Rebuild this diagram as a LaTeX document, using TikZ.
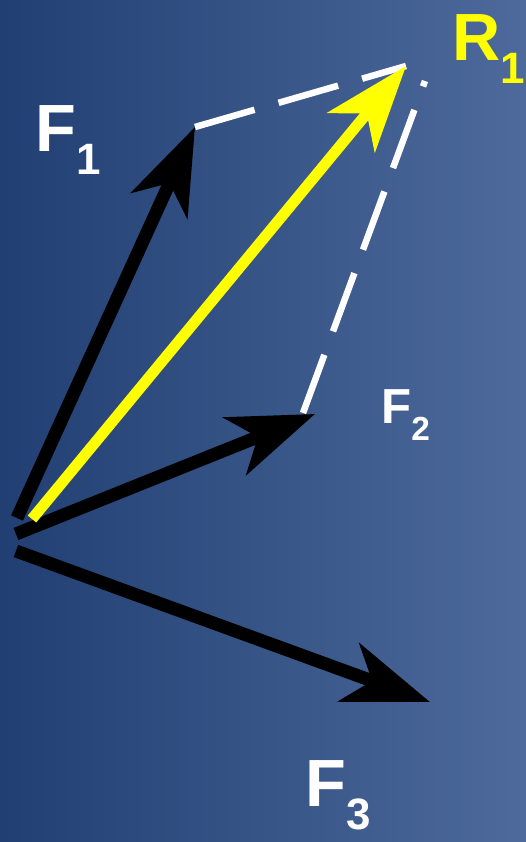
\documentclass[tikz,border=0pt]{standalone}
\usepackage{fontspec}
\setmainfont{Liberation Sans}
\usetikzlibrary{arrows.meta}
\usepackage{xcolor}
\definecolor{NavyDeep}{HTML}{213F72}
\definecolor{NavyLight}{HTML}{4E6A9D}
\definecolor{ResultYellow}{HTML}{FFFF00}

\newcommand{\bigname}[2]{{\fontsize{38}{38}\selectfont #1}\raisebox{-13.5pt}{\fontsize{25}{25}\selectfont #2}}
\newcommand{\smallname}[2]{{\fontsize{28}{28}\selectfont #1}\raisebox{-10pt}{\fontsize{19}{19}\selectfont #2}}

\begin{document}
\begin{tikzpicture}[
  x=0.02cm, y=-0.02cm,
  force/.style={line width=7.4pt, black, -{Stealth[length=49pt, width=35pt, inset=14pt]}},
  resultant/.style={line width=6.2pt, ResultYellow, -{Stealth[length=49pt, width=35pt, inset=14pt]}},
  guide/.style={line width=3.7pt, white, dash pattern=on 1.24cm off 0.5cm},
  tag/.style={inner sep=0pt, anchor=base west, text=white, font=\bfseries}
]
  \shade[left color=NavyDeep, right color=NavyLight] (0,0) rectangle (526,842);
  \useasboundingbox (0,0) rectangle (526,842);
  % tails and tips
  \coordinate (o1) at (17,518);
  \coordinate (o2) at (16,534);
  \coordinate (o3) at (16,551);
  \coordinate (or) at (32,519);
  \coordinate (f1tip) at (195,127);
  \coordinate (f2tip) at (315,414);
  \coordinate (f2end) at (303,413);
  \coordinate (f3tip) at (430,702);
  \coordinate (rtip) at (406,66);
  \coordinate (rside) at (425,81);
  % parallelogram sides
  \draw[guide] (f1tip) -- (rtip);
  \draw[guide] (f2end) -- (rside);
  % forces
  \draw[force] (o1) -- (f1tip);
  \draw[force] (o2) -- (f2tip);
  \draw[force] (o3) -- (f3tip);
  \draw[resultant] (or) -- (rtip);
  % labels
  \node[tag] (f1name) at (35,151) {\bigname{F}{1}};
  \node[tag] (f2name) at (381,423) {\smallname{F}{2}};
  \node[tag] (f3name) at (305,806) {\bigname{F}{3}};
  \node[tag, text=ResultYellow] (rname) at (452,60) {\bigname{R}{1}};
\end{tikzpicture}
\end{document}
